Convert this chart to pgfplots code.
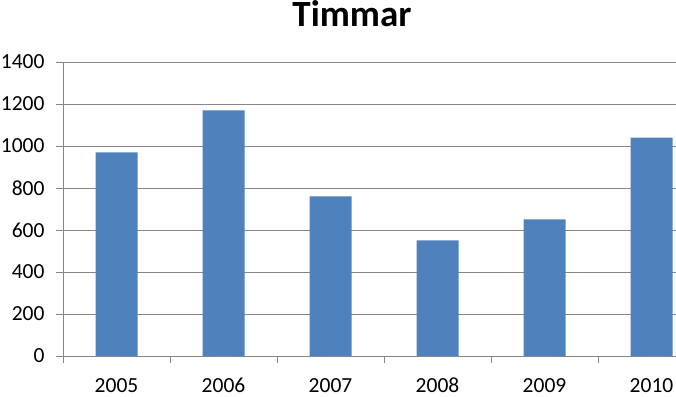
\documentclass[border=0pt]{standalone}
\usepackage{pgfplots}
\pgfplotsset{compat=1.18}
\usepackage{fontspec}
\setmainfont{Carlito}
\definecolor{barblue}{HTML}{4F81BD}
\definecolor{axgray}{HTML}{868686}
\begin{document}
\begin{tikzpicture}
\path[use as bounding box] (0,0) rectangle (676pt,396pt);
\node[anchor=base, font=\fontsize{37}{42}\selectfont\bfseries] at (352pt,369pt) {Timmar};
\begin{axis}[
  at={(63pt,40pt)}, anchor=south west,
  scale only axis, width=613pt, height=294pt,
  xmin=-0.5, xmax=5.229, ymin=0, ymax=1400,
  axis x line*=bottom, axis y line*=left,
  axis line style={axgray, line width=0.8pt},
  ytick={0,200,...,1400},
  ymajorgrids, major grid style={axgray, line width=0.8pt},
  xtick={-0.5,0.5,1.5,2.5,3.5,4.5}, xticklabels={},
  extra x ticks={0,1,2,3,4,5},
  extra x tick labels={2005,2006,2007,2008,2009,2010},
  extra x tick style={major tick length=0pt, grid=none},
  tick align=outside, major tick length=7pt,
  tick style={axgray, line width=0.8pt},
  tick label style={font=\fontsize{21.5}{25}\selectfont, text=black},
  /pgf/number format/assume math mode=true,
  /pgf/number format/1000 sep={},
  yticklabel style={xshift=-8pt},
  xticklabel style={anchor=base, yshift=-36pt},
  clip=false,
]
\addplot[ybar, bar width=42pt, fill=barblue, draw=none] coordinates {
  (0,970) (1,1170) (2,760) (3,550) (4,650) (5,1040)
};
\end{axis}
\end{tikzpicture}
\end{document}
